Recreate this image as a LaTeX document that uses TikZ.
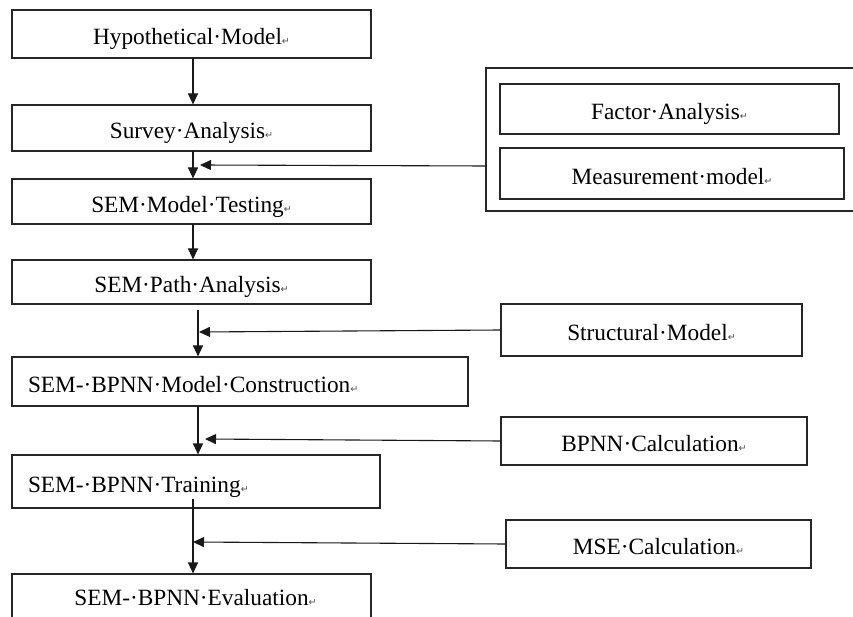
\documentclass[tikz,border=0pt]{standalone}
\usepackage{fontspec}
\setmainfont{Liberation Serif}
\newfontfamily\symfont{DejaVu Sans}
\usetikzlibrary{arrows.meta}
\newcommand\retmark{{\symfont\fontsize{9.5}{9.5}\selectfont\color{black!70}↵}}
\begin{document}
\begin{tikzpicture}[x=1pt,y=-1pt,
  box/.style={draw=black!85, line width=1.1pt, inner sep=0pt,
    font=\fontsize{23.3}{26}\selectfont, text height=21.6pt, text depth=0pt},
  leftbox/.style={box, inner xsep=16pt, align=left},
  arr/.style={draw=black!90, line width=1.1pt, -{Triangle[length=11pt,width=10pt]}},
  ln/.style={draw=black!90, line width=1.1pt}]
\useasboundingbox (0,0) rectangle (853,617);
\clip (0,0) rectangle (853,617);
% main column
\node[box, minimum width=359pt, minimum height=48pt] (hyp) at (191.5,34) {Hypothetical·Model\retmark};
\node[box, minimum width=359pt, minimum height=46pt] (sur) at (191.5,128) {Survey·Analysis\retmark};
\node[box, minimum width=359pt, minimum height=45pt] (test) at (191.5,201.5) {SEM·Model·Testing\retmark};
\node[box, minimum width=359pt, minimum height=44pt] (path) at (191.5,282) {SEM·Path·Analysis\retmark};
\node[leftbox, minimum width=456pt, minimum height=49pt, text width=424pt] (cons) at (240,381.5) {SEM-·BPNN·Model·Construction\retmark};
\node[leftbox, minimum width=368pt, minimum height=53pt, text width=336pt] (train) at (196,481.5) {SEM-·BPNN·Training\retmark};
\node[box, minimum width=359pt, minimum height=60pt, text height=2pt] (eval) at (191.5,604) {\hspace{8pt}SEM-·BPNN·Evaluation\retmark};
% right side
\node[box, minimum width=384pt, minimum height=143pt] (grp) at (678,139.5) {};
\node[box, minimum width=339pt, minimum height=50pt] (fac) at (669.5,109) {Factor·Analysis\retmark};
\node[box, minimum width=344pt, minimum height=51pt] (meas) at (672,173.5) {Measurement·model\retmark};
\node[box, minimum width=301pt, minimum height=52pt] (str) at (651.5,330) {Structural·Model\retmark};
\node[box, minimum width=306pt, minimum height=48pt] (bpc) at (654,441) {BPNN·Calculation\retmark};
\node[box, minimum width=305pt, minimum height=48pt] (mse) at (658.5,544) {MSE·Calculation\retmark};
% helper coordinates
\coordinate (p1) at (193,58);
\coordinate (p2) at (193,151);
\coordinate (p3) at (193,224);
\coordinate (p4) at (198,310);
\coordinate (p5) at (198,406);
\coordinate (p6) at (193,499);
\coordinate (q1) at (200,165);
\coordinate (q2) at (199,332);
\coordinate (q3) at (205,439);
\coordinate (q4) at (193,542);
\coordinate (g1) at (486,166);
% vertical arrows
\draw[arr] (p1) -- (p1 |- sur.north);
\draw[arr] (p2) -- (p2 |- test.north);
\draw[arr] (p3) -- (p3 |- path.north);
\draw[arr] (p4) -- (p4 |- cons.north);
\draw[arr] (p5) -- (p5 |- train.north);
\draw[arr] (p6) -- (p6 |- eval.north);
% side arrows
\draw[arr] (g1) -- (q1);
\draw[arr] (str.west) -- (q2);
\draw[arr] (bpc.west) -- (q3);
\draw[arr] (mse.west) -- (q4);
\end{tikzpicture}
\end{document}
